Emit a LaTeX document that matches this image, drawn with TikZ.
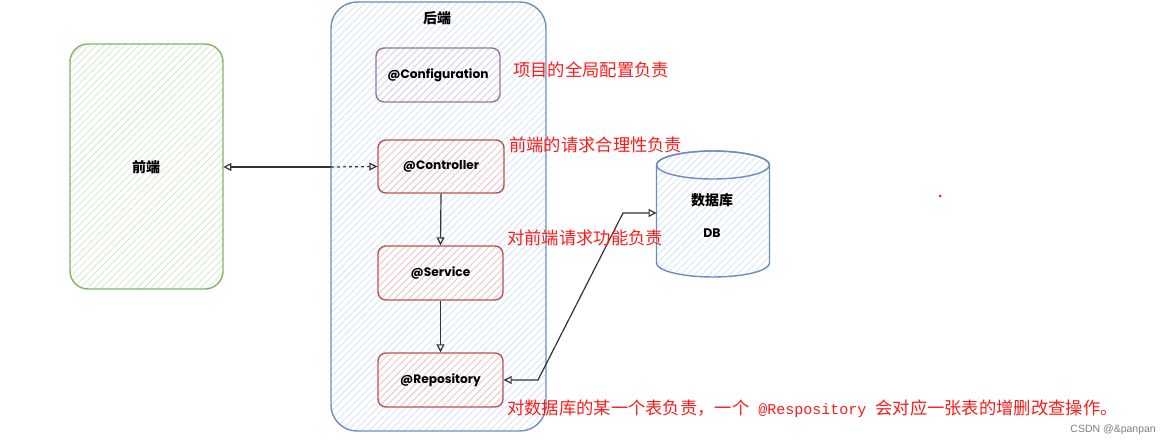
\documentclass[tikz,border=0pt]{standalone}
\usepackage{fontspec}
\setmainfont{Liberation Sans}
\newfontfamily\cjk{Noto Sans CJK SC}
\newfontfamily\labfont{Poppins}
\newfontfamily\mymono{Liberation Mono}
\usetikzlibrary{arrows.meta,patterns.meta}
\definecolor{grnline}{HTML}{82B366}
\definecolor{grnfill}{HTML}{CFE5C9}
\definecolor{bluline}{HTML}{6C8EBF}
\definecolor{blufill}{HTML}{CFDFF5}
\definecolor{redline}{HTML}{B85450}
\definecolor{redfill}{HTML}{F3C3C1}
\definecolor{purline}{HTML}{9673A6}
\definecolor{purfill}{HTML}{DCCFE3}
\definecolor{arrcol}{HTML}{333333}
\definecolor{notered}{HTML}{FF1A1A}
\tikzset{
  hatch/.style={pattern={Lines[angle=45,distance=5pt,line width=0.7pt]}},
  box/.style={draw, line width=1.4pt, hatch, rounded corners=#1, inner sep=0pt},
  ann/.style={box=8pt, font=\labfont\bfseries\fontsize{12.2}{14}\selectfont, text=black},
  redbox/.style={ann, draw=redline, pattern color=redfill},
  note/.style={anchor=west, text=notered, inner sep=0pt, font=\cjk\fontsize{17.3}{19}\selectfont},
  title/.style={font=\cjk\bfseries\fontsize{14}{16}\selectfont, text=black, inner sep=0pt},
  arr/.style={draw=arrcol, line width=1.2pt, >={Triangle[open, length=8pt, width=8pt]}}
}
\begin{document}
\begin{tikzpicture}[x=1pt,y=-1pt]
\useasboundingbox (0,0) rectangle (1168,446);
% frontend
\node[box=18pt, draw=grnline, pattern color=grnfill, minimum width=153pt, minimum height=245pt] (fe) at (146.5,166.5) {};
\node[title] (felab) at (146,167) {前端};
% backend
\node[box=26pt, draw=bluline, pattern color=blufill, minimum width=215pt, minimum height=429pt] (be) at (438.5,216.5) {};
\node[title] (belab) at (437,18) {后端};
% inner boxes
\node[ann, draw=purline, pattern color=purfill, minimum width=124pt, minimum height=54pt] (cfg) at (438,75) {@Configuration};
\node[redbox, minimum width=126pt, minimum height=53pt] (ctl) at (441,166.5) {@Controller};
\node[redbox, minimum width=125pt, minimum height=54pt] (svc) at (440.5,273) {@Service};
\node[redbox, minimum width=125pt, minimum height=54pt] (repo) at (440.5,380) {@Repository};
% database
\draw[line width=1.4pt, draw=bluline, hatch, pattern color=blufill]
  (656.5,165) -- (656.5,263) arc[start angle=180, end angle=360, x radius=56.5pt, y radius=14pt]
  -- (769.5,165) arc[start angle=0, end angle=180, x radius=56.5pt, y radius=14pt] -- cycle;
\draw[line width=1.4pt, draw=bluline] (713,165) ellipse[x radius=56.5pt, y radius=14pt];
\node[title] (dblab) at (712,200) {数据库};
\node[font=\labfont\bfseries\fontsize{12.5}{14}\selectfont, inner sep=0pt] (dbname) at (712,233) {DB};
\coordinate (dbw) at (656.5,213);
% connectors
\coordinate (bx) at (331,167);
\draw[arr, <-] (fe.east |- bx) -- (bx);
\draw[arr, dashed, ->] (bx) -- (ctl.west);
\draw[arr, ->] (ctl.south) -- (svc.north);
\draw[arr, ->] (svc.south) -- (repo.north);
\coordinate (c1) at (538,380);
\coordinate (c2) at (623,213);
\draw[arr, <->] (repo.east) -- (c1) -- (c2) -- (dbw);
% notes
\node[note] (n1) at (513,70) {项目的全局配置负责};
\node[note] (n2) at (509,145) {前端的请求合理性负责};
\node[note] (n3) at (507,238) {对前端请求功能负责};
\node[note] (n4) at (507,409) {对数据库的某一个表负责，一个{\mymono\fontsize{15}{17}\selectfont\ @Respository\ }会对应一张表的增删改查操作。};
% watermark and dot
\node[anchor=east, text=gray, inner sep=0pt, font=\fontsize{10.5}{12}\selectfont] (wm) at (1156,430) {CSDN @\&panpan};
\fill[notered] (940,196) circle[radius=1.5pt];
\end{tikzpicture}
\end{document}
